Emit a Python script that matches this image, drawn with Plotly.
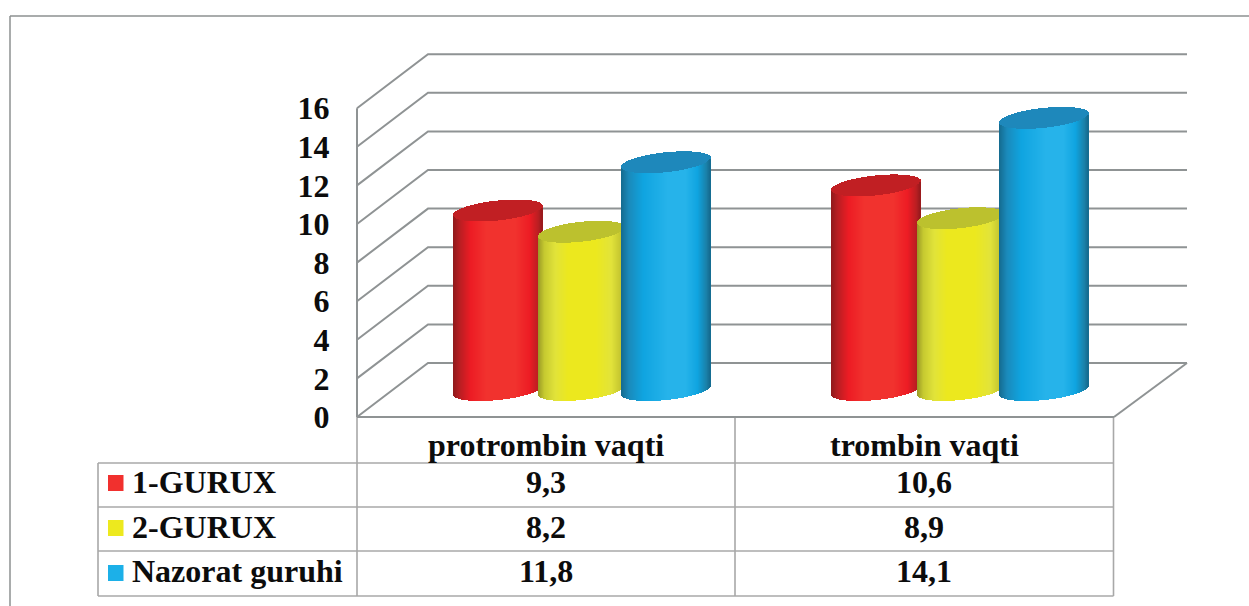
import math
import plotly.graph_objects as go

categories = ["protrombin vaqti", "trombin vaqti"]
series_names = ["1-GURUX", "2-GURUX", "Nazorat guruhi"]
gurux_1 = [9.3, 10.6]
gurux_2 = [8.2, 8.9]
nazorat = [11.8, 14.1]
y_ticks = [0, 2, 4, 6, 8, 10, 12, 14, 16]

W, H = 1249, 606
FONT = "Liberation Serif"
GRID = "#8f9394"
TABLE = "#a8a8a8"
INK = "#0c0c0c"
FONT_SIZE = 32

# axis calibration: px per category and px per value unit
PX_CAT = 378.5
PX_VAL = 19.3
X0_PX = 357.0
Y0_PX = 417.0
x_range = [(0 - X0_PX) / PX_CAT - 0.5, (W - X0_PX) / PX_CAT - 0.5]
y_range = [(Y0_PX - H) / PX_VAL, Y0_PX / PX_VAL]

# oblique depth of the box
DEPTH_X = 71 / PX_CAT
DEPTH_Y = 54 / PX_VAL
X_LEFT, X_RIGHT = -0.5, 1.5
BACK_RIGHT = X_RIGHT + 73 / PX_CAT


def px_x(px):
    return px / W


def px_y(py):
    return 1 - py / H


styles = [
    dict(
        radius=44.5,
        stops=[(-1, "#8f1a1c"), (-0.85, "#b81e22"), (-0.6, "#ed1c24"), (-0.25, "#f1322e"),
               (0.4, "#f1322e"), (0.72, "#ed1c24"), (0.92, "#b81e22"), (1, "#96191c")],
        cap="#c11f23",
    ),
    dict(
        radius=43.0,
        stops=[(-1, "#9a9a26"), (-0.85, "#c6ca30"), (-0.6, "#e1e33a"), (-0.3, "#ece81e"),
               (0.35, "#ece81e"), (0.7, "#e2e33a"), (0.92, "#c4c630"), (1, "#a8a828")],
        cap="#bcc12e",
    ),
    dict(
        radius=44.5,
        stops=[(-1, "#146a8e"), (-0.82, "#1a8abb"), (-0.5, "#0fa4e0"), (0.05, "#26b3ea"),
               (0.45, "#26b3ea"), (0.72, "#0fa4e0"), (0.92, "#1a80a8"), (1, "#146a8e")],
        cap="#1e88bb",
    ),
]


def hex_mix(stops, u):
    for (a, ca), (b, cb) in zip(stops, stops[1:]):
        if a <= u <= b:
            t = (u - a) / (b - a)
            c = [round(int(ca[i:i + 2], 16) * (1 - t) + int(cb[i:i + 2], 16) * t) for i in (1, 3, 5)]
            return "#%02x%02x%02x" % tuple(c)
    return stops[-1][1]


EL_B = 10.0 / PX_VAL
EL_C = 4.5 / PX_VAL
SPACING = 84.2 / PX_CAT
STRIP = 1.0 / PX_CAT
MID_X = DEPTH_X / 2
MID_Y = DEPTH_Y / 2

fig = go.Figure()
for k, (name, vals, st) in enumerate(zip(series_names, [gurux_1, gurux_2, nazorat], styles)):
    xs, bases, hs, cols = [], [], [], []
    radius = st["radius"] / PX_CAT
    n = int(2 * radius / STRIP)
    for c, v in enumerate(vals):
        cx = c + MID_X + (k - 1) * SPACING
        for i in range(n):
            u = -1 + (i + 0.5) * 2 / n
            s = math.sqrt(1 - u * u)
            low_edge = MID_Y + u * EL_C - EL_B * s
            xs.append(cx + u * radius)
            bases.append(low_edge)
            hs.append(v)
            cols.append(hex_mix(st["stops"], u))
            xs.append(cx + u * radius)
            bases.append(v + low_edge)
            hs.append(2 * EL_B * s)
            cols.append(st["cap"])
    fig.add_trace(go.Bar(name=name, x=xs, y=hs, base=bases, width=STRIP * 1.02,
                         marker=dict(color=cols, line=dict(width=0)),
                         hoverinfo="skip", showlegend=False))

shapes = []
# gridlines on side and back walls
for t in y_ticks:
    shapes.append(dict(type="path", xref="x", yref="y", layer="below",
                       path=f"M{X_LEFT},{t} L{X_LEFT + DEPTH_X},{t + DEPTH_Y} L{BACK_RIGHT},{t + DEPTH_Y}",
                       line=dict(color=GRID, width=2)))
# vertical axis, front floor edge, right floor edge
shapes.append(dict(type="line", xref="x", yref="y", layer="below", x0=X_LEFT, x1=X_LEFT,
                   y0=y_ticks[0], y1=y_ticks[-1], line=dict(color=GRID, width=2)))
shapes.append(dict(type="line", xref="x", yref="y", layer="below", x0=X_LEFT, x1=X_RIGHT,
                   y0=0, y1=0, line=dict(color=GRID, width=2)))
shapes.append(dict(type="line", xref="x", yref="y", layer="below", x0=X_RIGHT, x1=BACK_RIGHT,
                   y0=0, y1=DEPTH_Y, line=dict(color=GRID, width=2)))


def pline(x0, y0, x1, y1, color=TABLE, width=1.6):
    shapes.append(dict(type="line", xref="paper", yref="paper", layer="below",
                       x0=px_x(x0), x1=px_x(x1), y0=px_y(y0), y1=px_y(y1),
                       line=dict(color=color, width=width)))


# outer frame
pline(10, 16, W, 16, "#8c9090", 1.5)
pline(10, 16, 10, H, "#8c9090", 1.5)

# data table
ROWS = [463, 507, 551, 596]
COL_L, COL_A, COL_B, COL_R = 98, 357, 735, 1113.5
for r in ROWS:
    pline(COL_L, r, COL_R, r)
pline(COL_L, ROWS[0], COL_L, ROWS[-1])
pline(COL_A, 417, COL_A, ROWS[-1])
pline(COL_B, 417, COL_B, ROWS[-1])
pline(COL_R, 417, COL_R, ROWS[-1])

annots = []


def label(text, x, py, align="center"):
    annots.append(dict(text=f"<b>{text}</b>", x=px_x(x), y=px_y(py), xref="paper", yref="paper",
                       xanchor=align, yanchor="middle", showarrow=False,
                       font=dict(family=FONT, size=FONT_SIZE, color=INK)))


for c, cat in enumerate(categories):
    label(cat, (COL_A + COL_B) / 2 if c == 0 else (COL_B + COL_R) / 2, 445)

SW = ["#f1302e", "#ede91e", "#1cb0e8"]
ROW_Y = [482, 527, 571]
SW_Y = [483, 528, 573]
for k, (name, vals) in enumerate(zip(series_names, [gurux_1, gurux_2, nazorat])):
    label(name, 130, ROW_Y[k], "left")
    shapes.append(dict(type="rect", xref="paper", yref="paper",
                       x0=px_x(108), x1=px_x(123.5), y0=px_y(SW_Y[k] - 8), y1=px_y(SW_Y[k] + 8),
                       fillcolor=SW[k], line=dict(width=0)))
    for c, v in enumerate(vals):
        label(f"{v}".replace(".", ","), (COL_A + COL_B) / 2 if c == 0 else (COL_B + COL_R) / 2, ROW_Y[k])

fig.update_layout(
    width=W, height=H, autosize=False, margin=dict(l=0, r=0, t=0, b=0, pad=0),
    paper_bgcolor="white", plot_bgcolor="rgba(0,0,0,0)", barmode="overlay", bargap=0,
    showlegend=False, hovermode=False, shapes=shapes, annotations=annots,
    xaxis=dict(visible=False, range=x_range, fixedrange=True, domain=[0, 1]),
    yaxis=dict(range=y_range, tickmode="array", tickvals=y_ticks, ticktext=[str(t) for t in y_ticks],
               anchor="free", position=X0_PX / W, side="left", showgrid=False, zeroline=False,
               showline=False, ticks="outside", ticklen=21, tickcolor="rgba(0,0,0,0)", tickwidth=1,
               tickfont=dict(family=FONT, size=FONT_SIZE, color=INK, weight="bold"),
               fixedrange=True, domain=[0, 1]),
)

fig.write_html("out.html", config={"displayModeBar": False},
               post_script="document.body.style.margin='0';document.body.style.overflow='hidden';")
